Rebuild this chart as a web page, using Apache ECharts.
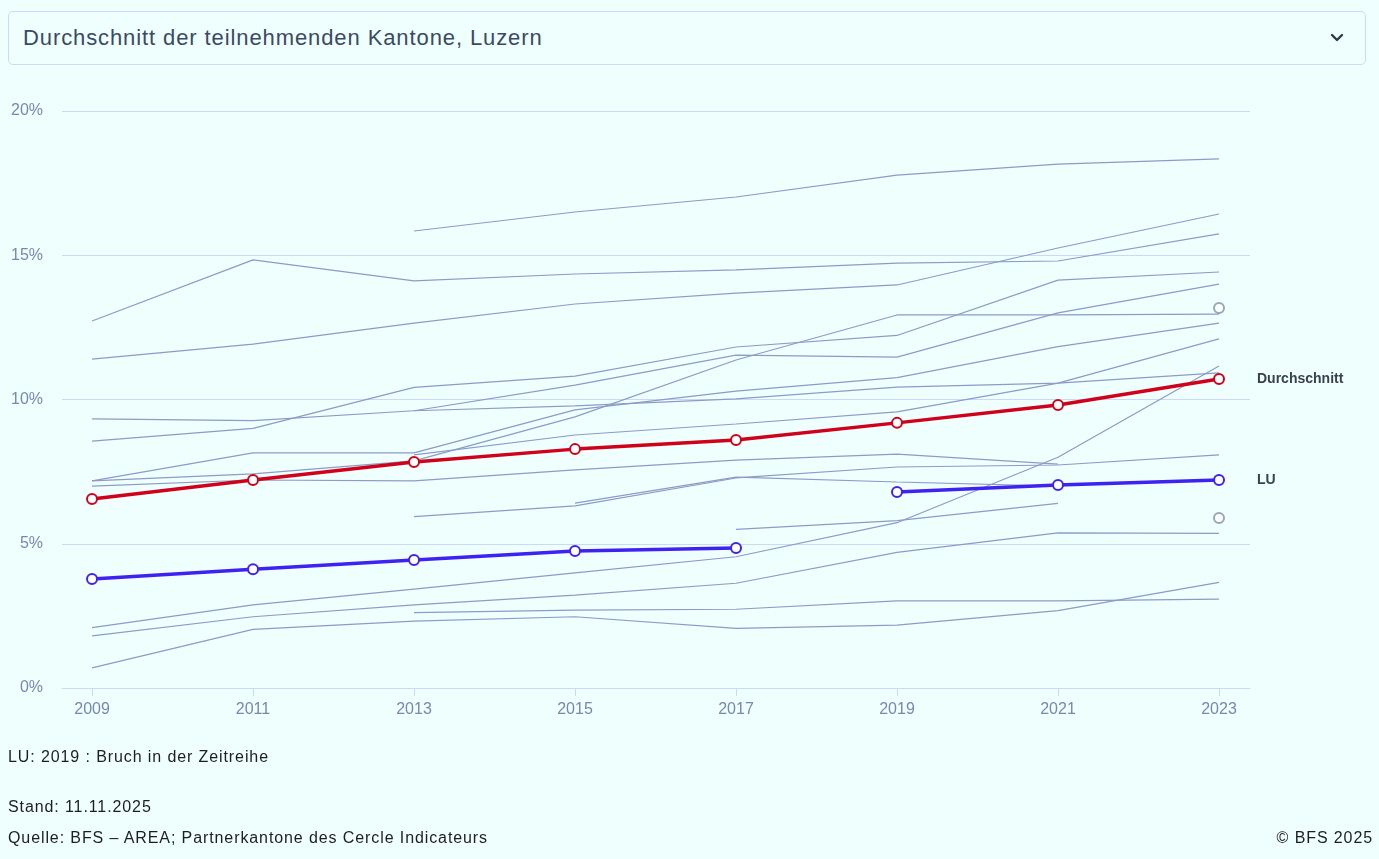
<!DOCTYPE html>
<html lang="de">
<head>
<meta charset="utf-8">
<title>Durchschnitt der teilnehmenden Kantone, Luzern</title>
<script src="https://cdn.jsdelivr.net/npm/echarts@6/dist/echarts.min.js"></script>
<style>
  html, body { margin: 0; padding: 0; background: #effffe; }
  body { width: 1379px; height: 859px; position: relative; overflow: hidden; font-family: "Liberation Sans", Arial, sans-serif; }
  #auswahl {
    position: absolute; left: 8px; top: 11px; width: 1358px; height: 54px;
    border: 1.5px solid #c9dcf3; border-radius: 5px; box-sizing: border-box;
    background: #effffe; color: #3b4a63; font-size: 22px; letter-spacing: 0.9px;
    display: flex; align-items: center; padding-left: 14px;
  }
  #auswahl svg { position: absolute; right: 20px; top: 20px; }
  #chart { position: absolute; left: 0; top: 0; width: 1379px; height: 859px; }
  .fuss { position: absolute; left: 8px; font-size: 16px; letter-spacing: 0.9px; color: #1e1e1e; line-height: 18px; white-space: nowrap; }
  .rechts { left: auto; right: 6px; }
</style>
</head>
<body>
<div id="chart"></div>
<div id="auswahl">Durchschnitt der teilnehmenden Kantone, Luzern
  <svg width="16" height="12" viewBox="0 0 16 12"><path d="M3 3 L8 8 L13 3" fill="none" stroke="#2f3a4d" stroke-width="2.4" stroke-linecap="round" stroke-linejoin="round"/></svg>
</div>
<div class="fuss" style="top: 748px">LU: 2019 : Bruch in der Zeitreihe</div>
<div class="fuss" style="top: 798px">Stand: 11.11.2025</div>
<div class="fuss" style="top: 829px">Quelle: BFS – AREA; Partnerkantone des Cercle Indicateurs</div>
<div class="fuss rechts" style="top: 829px">© BFS 2025</div>
<script>
const jahre = [2009, 2011, 2013, 2015, 2017, 2019, 2021, 2023]
const yTicks = [0, 5, 10, 15, 20]

// Durchschnitt und Luzern (Bruch in der Zeitreihe 2019)
const durchschnitt = [6.55, 7.21, 7.83, 8.28, 8.60, 9.19, 9.81, 10.71]
const luBis2017 = [3.78, 4.12, 4.44, 4.75, 4.85, null, null, null]
const luAb2019 = [null, null, null, null, null, 6.79, 7.04, 7.21]

// übrige Kantone (grau)
const kanton01 = [null, null, 15.84, 16.50, 17.02, 17.78, 18.16, 18.34]
const kanton02 = [12.72, 14.84, 14.11, 14.35, 14.49, 14.73, 14.80, 15.74]
const kanton03 = [11.40, 11.92, 12.65, 13.31, 13.69, 13.97, 15.25, 16.43]
const kanton04 = [8.56, 9.00, 10.42, 10.81, 11.82, 12.22, 14.14, 14.42]
const kanton05 = [null, null, 9.61, 10.50, 11.54, 11.47, 13.00, 14.00]
const kanton06 = [7.18, 7.42, 7.87, 9.40, 11.37, 12.93, 12.93, 12.96]
const kanton07 = [7.18, 8.15, 8.15, 9.64, 10.29, 10.76, 11.83, 12.65]
const kanton08 = [9.33, 9.27, 9.61, 9.78, 10.02, 10.43, 10.57, 10.92]
const kanton09 = [null, null, 8.08, 8.77, 9.15, 9.57, 10.57, 12.10]
const kanton10 = [7.00, 7.21, 7.18, 7.56, 7.90, 8.11, 7.76, null]
const kanton11 = [null, null, 5.94, 6.31, 7.28, 7.66, 7.73, 8.08]
const kanton12 = [null, null, null, 6.41, 7.31, 7.14, 7.00, null]
const kanton13 = [null, null, null, null, 5.50, 5.80, 6.40, null]
const kanton14 = [2.09, 2.88, 3.43, 3.99, 4.55, 5.73, 8.00, 11.16]
const kanton15 = [1.81, 2.47, 2.88, 3.22, 3.63, 4.70, 5.38, 5.36]
const kanton16 = [0.70, 2.03, 2.32, 2.47, 2.07, 2.18, 2.68, 3.66]
const kanton17 = [null, null, 2.61, 2.70, 2.73, 3.02, 3.02, 3.08]
// Kantone mit nur einem Wert (2023)
const einzelJahr = [2023, 2023]
const einzelWerte = [13.17, 5.89]

const kantone = [kanton01, kanton02, kanton03, kanton04, kanton05, kanton06, kanton07, kanton08, kanton09,
  kanton10, kanton11, kanton12, kanton13, kanton14, kanton15, kanton16, kanton17]

const grau = '#8d9bc6'
const rot = '#d0021b'
const blau = '#3f22f2'
const achse = '#7a87ae'
const gitter = '#c9daf4'
const schrift = 'Liberation Sans, Arial, sans-serif'

const toPairs = (arr) => jahre.map((j, i) => [j, arr[i] == null ? '-' : arr[i]])

const endLabel = (arr, text) => {
  const pairs = toPairs(arr)
  const last = pairs.length - 1
  pairs[last] = {
    value: pairs[last],
    label: {
      show: true, position: 'right', distance: 32, formatter: text,
      fontSize: 14, fontWeight: 'bold', color: '#3a4150', fontFamily: schrift
    }
  }
  return pairs
}

const chart = echarts.init(document.getElementById('chart'), null, { renderer: 'canvas' })

const series = kantone.map((k) => ({
  type: 'line',
  data: toPairs(k),
  showSymbol: false,
  symbol: 'none',
  lineStyle: { color: grau, width: 1.2 },
  z: 2,
  silent: true
}))

series.push({
  type: 'scatter',
  data: einzelJahr.map((j, i) => [j, einzelWerte[i]]),
  symbol: 'emptyCircle',
  symbolSize: 10,
  itemStyle: { color: '#858ea5', borderWidth: 3 },
  z: 3
})

const hauptSerie = (data, color) => ({
  type: 'line',
  data,
  symbol: 'emptyCircle',
  symbolSize: 10,
  showSymbol: true,
  lineStyle: { color, width: 3.5 },
  itemStyle: { color, borderColor: color, borderWidth: 2.5 },
  z: 5
})

series.push(hauptSerie(toPairs(luBis2017), blau))
series.push(hauptSerie(endLabel(luAb2019, 'LU'), blau))
series.push(hauptSerie(endLabel(durchschnitt, 'Durchschnitt'), rot))

const option = {
  backgroundColor: 'transparent',
  animation: false,
  textStyle: { fontFamily: schrift },
  grid: { left: 62, right: 129, top: 111, bottom: 171 },
  xAxis: {
    type: 'value',
    min: 2008.627,
    max: 2023.385,
    splitLine: { show: false },
    axisLine: { show: true, lineStyle: { color: gitter, width: 1 } },
    axisTick: { show: true, length: 8, lineStyle: { color: gitter }, customValues: jahre },
    axisLabel: { color: achse, fontSize: 16, margin: 14, customValues: jahre, formatter: (v) => String(v) }
  },
  yAxis: {
    type: 'value',
    min: 0,
    max: 20,
    interval: 5,
    axisLine: { show: false },
    axisTick: { show: false },
    splitLine: { lineStyle: { color: gitter, width: 1 } },
    axisLabel: { color: achse, fontSize: 16, margin: 19, formatter: (v) => yTicks.includes(v) ? v + '%' : '' }
  },
  series
}

chart.setOption(option)
window.addEventListener('resize', () => chart.resize())
</script>
</body>
</html>
